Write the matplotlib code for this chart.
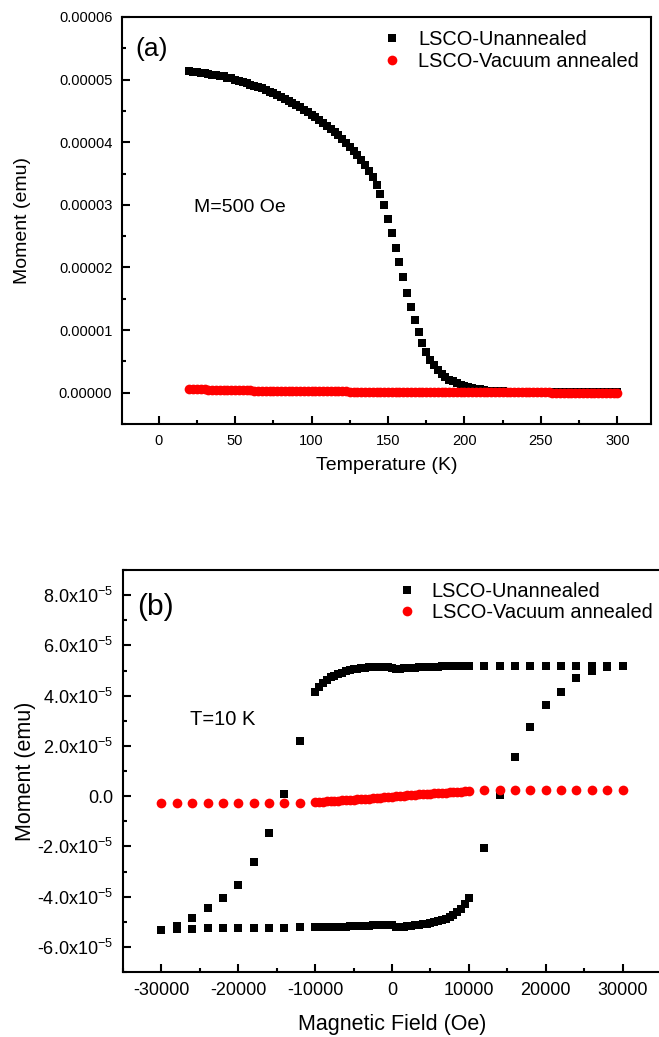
import numpy as np
import matplotlib
matplotlib.use('Agg')
import matplotlib.pyplot as plt
from matplotlib.ticker import MultipleLocator, FormatStrFormatter, FuncFormatter

plt.rcParams['font.family'] = ['Liberation Sans', 'DejaVu Sans']
plt.rcParams['axes.unicode_minus'] = False

# ---- (a) moment vs temperature, H = 500 Oe ----
temp = np.arange(20, 300.1, 2.5)
# values in 1e-6 emu
m_unannealed = [51.3, 51.25, 51.2, 51.1, 51.0,
                50.9, 50.8, 50.7, 50.6, 50.5, 50.3, 50.2, 50.0,
                49.8, 49.6, 49.4, 49.2, 49.0, 48.8, 48.6, 48.3, 48.1, 47.8,
                47.5, 47.2, 46.9, 46.6, 46.3, 46.0, 45.6, 45.2, 44.8, 44.4,
                44.0, 43.6, 43.1, 42.6, 42.1, 41.6, 41.1, 40.5, 39.9, 39.3,
                38.6, 37.9, 37.2, 36.3, 35.4, 34.4, 33.2, 31.8, 30.0, 27.8,
                25.5, 23.1, 20.8, 18.4, 16.0, 13.7, 11.6, 9.7, 7.9, 6.5,
                5.3, 4.4, 3.6, 3.0, 2.5, 2.1, 1.8, 1.5, 1.3, 1.1,
                0.95, 0.8, 0.65, 0.55, 0.45, 0.35, 0.3, 0.25, 0.22, 0.20,
                0.19, 0.18, 0.17, 0.16, 0.15, 0.15, 0.14, 0.14, 0.13, 0.13,
                0.12, 0.12, 0.11, 0.11, 0.10, 0.10, 0.10, 0.09, 0.09, 0.09,
                0.08, 0.08, 0.08, 0.07, 0.07, 0.07, 0.06, 0.06, 0.06, 0.05]
m_vacuum = [0.60, 0.58, 0.56, 0.54, 0.52,
            0.50, 0.48, 0.46, 0.45, 0.43, 0.42, 0.41, 0.40,
            0.39, 0.38, 0.37, 0.36, 0.35, 0.34, 0.33, 0.32, 0.31, 0.30,
            0.30, 0.29, 0.28, 0.28, 0.27, 0.26, 0.26, 0.25, 0.25, 0.24,
            0.24, 0.23, 0.23, 0.22, 0.22, 0.21, 0.21, 0.20, 0.20, 0.19,
            0.19, 0.19, 0.18, 0.18, 0.18, 0.17, 0.17, 0.17, 0.16, 0.16,
            0.16, 0.15, 0.15, 0.15, 0.14, 0.14, 0.14, 0.13, 0.13, 0.13,
            0.12, 0.12, 0.12, 0.11, 0.11, 0.11, 0.10, 0.10, 0.10, 0.09,
            0.09, 0.09, 0.08, 0.08, 0.08, 0.07, 0.07, 0.07, 0.07, 0.06,
            0.06, 0.06, 0.06, 0.05, 0.05, 0.05, 0.05, 0.04, 0.04, 0.04,
            0.04, 0.04, 0.03, 0.03, 0.03, 0.03, 0.03, 0.02, 0.02, 0.02,
            0.02, 0.02, 0.02, 0.01, 0.01, 0.01, 0.01, 0.01, 0.00, 0.00]

# ---- (b) hysteresis loop at 10 K ----
# fields: sparse 2000 Oe steps outside +-10000, 500 Oe steps inside
h_down = np.concatenate([np.arange(30000, 11999, -2000),
                         np.arange(10000, -10001, -500),
                         np.arange(-12000, -30001, -2000)])
h_up = np.concatenate([np.arange(-28000, -11999, 2000),
                       np.arange(-10000, 10001, 500),
                       np.arange(12000, 30001, 2000)])
# values in 1e-5 emu
m_down = [5.17, 5.17, 5.18, 5.19, 5.19, 5.19, 5.19, 5.19, 5.18, 5.18,
          5.18, 5.18, 5.18, 5.17, 5.17, 5.17, 5.16, 5.16, 5.15, 5.15,
          5.14, 5.14, 5.13, 5.12, 5.11, 5.10, 5.10, 5.09, 5.06, 5.07,
          5.10, 5.13, 5.14, 5.14, 5.14, 5.13, 5.12, 5.11, 5.09, 5.07,
          5.04, 5.01, 4.97, 4.92, 4.87, 4.80, 4.73, 4.64, 4.52, 4.36,
          4.13,
          2.20, 0.08, -1.47, -2.63, -3.54, -4.05, -4.45, -4.85, -5.15, -5.33]
m_up = [-5.27, -5.28, -5.26, -5.25, -5.25, -5.25, -5.24, -5.24, -5.22,
        -5.22, -5.22, -5.22, -5.21, -5.21, -5.20, -5.20, -5.19, -5.19, -5.18,
        -5.18, -5.17, -5.17, -5.16, -5.15, -5.14, -5.14, -5.13, -5.12, -5.12,
        -5.14, -5.20, -5.21, -5.20, -5.18, -5.16, -5.14, -5.12, -5.10, -5.07,
        -5.05, -5.02, -4.98, -4.93, -4.88, -4.81, -4.73, -4.62, -4.50, -4.30,
        -4.05,
        -2.07, 0.04, 1.55, 2.74, 3.62, 4.14, 4.69, 5.00, 5.13, 5.17]

h_vac = np.concatenate([np.arange(-30000, -11999, 2000),
                        np.arange(-10000, 10001, 500),
                        np.arange(12000, 30001, 2000)])
m_vac = [-0.28, -0.28, -0.28, -0.28, -0.28, -0.28, -0.28, -0.28, -0.28, -0.27,
         -0.24, -0.23, -0.22, -0.21, -0.20, -0.19, -0.18, -0.17, -0.16, -0.15,
         -0.14, -0.13, -0.12, -0.11, -0.10, -0.08, -0.07, -0.06, -0.05, -0.03,
         -0.02, 0.00, 0.01, 0.02, 0.03, 0.05, 0.06, 0.07, 0.08, 0.09,
         0.10, 0.11, 0.12, 0.13, 0.14, 0.15, 0.16, 0.17, 0.18, 0.19,
         0.20,
         0.23, 0.24, 0.24, 0.24, 0.24, 0.24, 0.24, 0.24, 0.24, 0.24]

LBL1 = "LSCO-Unannealed"
LBL2 = "LSCO-Vacuum annealed"


def style_axis(ax, tick_size):
    for sp in ax.spines.values():
        sp.set_linewidth(1.5)
    ax.tick_params(which='both', direction='in', width=1.5, labelsize=tick_size)
    ax.tick_params(which='major', length=6)
    ax.tick_params(which='minor', length=3)
    ax.tick_params(axis='y', pad=7)
    ax.tick_params(axis='x', pad=7)


fig = plt.figure(figsize=(6.59, 10.37), dpi=100)

# panel (a)
ax1 = fig.add_axes([122/659, 1-424/1037, 529/659, 407/1037])
ax1.plot(temp, np.array(m_unannealed)*1e-6, 's', color='black', ms=5.5, mew=0, label=LBL1)
ax1.plot(temp, np.array(m_vacuum)*1e-6, 'o', color='red', ms=7, mew=0, label=LBL2)
ax1.set_xlim(-24, 322)
ax1.set_ylim(-5e-6, 6e-5)
ax1.xaxis.set_major_locator(MultipleLocator(50))
ax1.xaxis.set_minor_locator(MultipleLocator(25))
ax1.yaxis.set_major_locator(MultipleLocator(1e-5))
ax1.yaxis.set_minor_locator(MultipleLocator(5e-6))
ax1.yaxis.set_major_formatter(FormatStrFormatter('%.5f'))
style_axis(ax1, 10.5)
ax1.set_xlabel("Temperature (K)", fontsize=14, labelpad=7)
ax1.set_ylabel("Moment (emu)", fontsize=14, labelpad=20)
ax1.text(0.026, 0.921, "(a)", transform=ax1.transAxes, fontsize=19, va='center', ha='left')
ax1.text(0.136, 0.533, "M=500 Oe", transform=ax1.transAxes, fontsize=14, va='center', ha='left')
ax1.legend(loc='upper left', bbox_to_anchor=(0.4915, 0.967), frameon=False, fontsize=14.4,
           handlelength=1, handletextpad=0.8, borderpad=0, borderaxespad=0, labelspacing=0.12)


# panel (b)
def sci_fmt(v, pos):
    if abs(v) < 1e-12:
        return "0.0"
    return "%.1fx10$^{\\mathregular{-5}}$" % (v/1e-5)


ax2 = fig.add_axes([123/659, 1-972/1037, 538/659, 402/1037])
ax2.plot(np.concatenate([h_down, h_up]), np.array(m_down + m_up)*1e-5, 's',
         color='black', ms=5.5, mew=0, label=LBL1)
ax2.plot(h_vac, np.array(m_vac)*1e-5, 'o', color='red', ms=7, mew=0, label=LBL2)
ax2.set_xlim(-35000, 35000)
ax2.set_ylim(-7e-5, 9e-5)
ax2.xaxis.set_major_locator(MultipleLocator(10000))
ax2.xaxis.set_minor_locator(MultipleLocator(5000))
ax2.yaxis.set_major_locator(MultipleLocator(2e-5))
ax2.yaxis.set_minor_locator(MultipleLocator(1e-5))
ax2.yaxis.set_major_formatter(FuncFormatter(sci_fmt))
style_axis(ax2, 13)
ax2.set_xlabel("Magnetic Field (Oe)", fontsize=15.5, labelpad=11)
ax2.set_ylabel("Moment (emu)", fontsize=15.5, labelpad=1)
ax2.text(0.026, 0.908, "(b)", transform=ax2.transAxes, fontsize=21.5, va='center', ha='left')
ax2.text(0.1245, 0.627, "T=10 K", transform=ax2.transAxes, fontsize=14.5, va='center', ha='left')
ax2.legend(loc='upper left', bbox_to_anchor=(0.509, 0.971), frameon=False, fontsize=14.4,
           handlelength=1, handletextpad=0.75, borderpad=0, borderaxespad=0, labelspacing=0.12)

fig.savefig("out.png", dpi=100)
